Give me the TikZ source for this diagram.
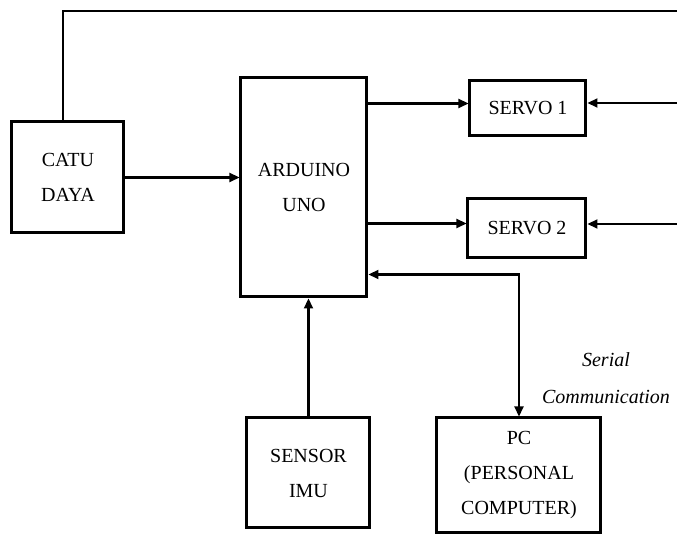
\documentclass[tikz,border=0pt]{standalone}
\usepackage{fontspec}
\setmainfont{Liberation Serif}
\usetikzlibrary{arrows.meta}
\begin{document}
\begin{tikzpicture}[x = 0.5pt, y = -0.5pt,
        >={Triangle[length = 5pt, width = 4.5pt]},
        blok/.style = {draw, line width = 1.5pt, align = center, inner sep = 0pt,
            font = \fontsize{10}{17.5}\selectfont},
        lift/.style = {execute at end node = {\\[#1]\mbox{}}},
        panah/.style = {line width = 1.1pt, ->}]
        \useasboundingbox (0, 0) rectangle (677, 535);
        \node[blok, minimum width = 56pt, minimum height = 55.5pt, lift = -7.5pt] (catu) at (68, 177.5) {CATU\\DAYA};
        \node[blok, minimum width = 63pt, minimum height = 109.5pt, lift = -7.5pt] (arduino) at (304, 187.5) {ARDUINO\\UNO};
        \node[blok, minimum width = 58pt, minimum height = 27.5pt, lift = -12.5pt] (servo1) at (528, 108.5) {SERVO 1};
        \node[blok, minimum width = 59pt, minimum height = 29.5pt, lift = -12.5pt] (servo2) at (527, 228.5) {SERVO 2};
        \node[blok, minimum width = 61.5pt, minimum height = 55pt, lift = -7.5pt] (sensor) at (308.5, 473) {SENSOR\\IMU};
        \node[blok, minimum width = 82pt, minimum height = 57.5pt] (pc) at (519, 475.5) {PC\\(PERSONAL\\COMPUTER)};
        \node[align = center, font = \itshape\fontsize{10}{18.5}\selectfont] (serial) at (606, 378) {Serial\\Communication};
        \coordinate (atas) at (677, 11);
        \coordinate (tepi1) at (677, 103);
        \coordinate (tepi2) at (677, 224);
        \coordinate (s1) at ([yshift = 2.5pt]servo1.west);
        \coordinate (s2) at ([yshift = 2.5pt]servo2.west);
        \draw[line width = 1.1pt] ([xshift = -2.5pt]catu.north) |- (atas);
        \draw[panah] (catu) -- (arduino.west |- catu);
        \draw[panah] (arduino.east |- s1) -- (s1);
        \draw[panah] (arduino.east |- s2) -- (s2);
        \draw[panah] (tepi1) -- (servo1.east |- tepi1);
        \draw[panah] (tepi2) -- (servo2.east |- tepi2);
        \draw[panah] (sensor) -- (sensor.north |- arduino.south);
        \draw[panah, <->] (pc.north) |- ([yshift = 12pt]arduino.south east);
    \end{tikzpicture}
\end{document}
